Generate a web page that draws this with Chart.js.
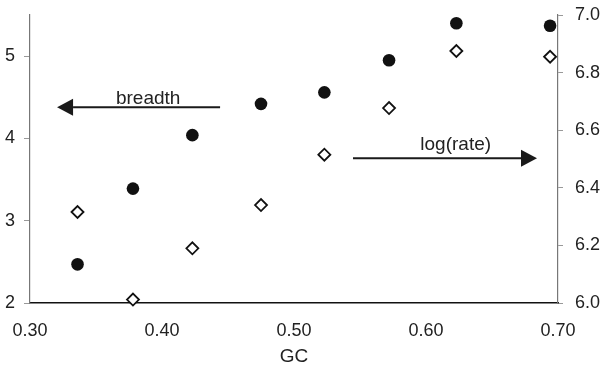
<!DOCTYPE html>
<html>
<head>
<meta charset="utf-8">
<script src="https://cdn.jsdelivr.net/npm/chart.js@4/dist/chart.umd.min.js"></script>
<style>
  html, body { margin: 0; padding: 0; background: #fff; }
  #wrap { width: 602px; height: 366px; }
</style>
</head>
<body>
<div id="wrap"><canvas id="myChart" width="602" height="366"></canvas></div>
<script>
// GC content per group
const gc = [0.336, 0.378, 0.423, 0.475, 0.523, 0.572, 0.623, 0.694];
// left axis series (filled circles)
const breadth = [2.47, 3.39, 4.04, 4.42, 4.56, 4.95, 5.40, 5.37];
// right axis series (open diamonds)
const logRate = [6.316, 6.012, 6.19, 6.34, 6.515, 6.677, 6.875, 6.855];

const xTicks = [0.30, 0.40, 0.50, 0.60, 0.70];
const leftTicks = [2, 3, 4, 5];
const rightTicks = [6.0, 6.2, 6.4, 6.6, 6.8, 7.0];

// arrow annotations: [label, axis, xFrom, xTo, yLine, xText, yText]
const arrows = [
    ["breadth", "y", 0.444, 0.3205, 4.38, 0.3895, 4.42],
    ["log(rate)", "y1", 0.5447, 0.6841, 6.503, 0.6225, 6.531]
];

const FONT = "'Liberation Sans', Arial, sans-serif";
const TXT = "#222";

const arrowPlugin = {
    id: "arrows",
    afterDatasetsDraw(chart) {
        const ctx = chart.ctx;
        const sx = chart.scales.x;
        ctx.save();
        arrows.forEach(a => {
            const sy = chart.scales[a[1]];
            const x0 = sx.getPixelForValue(a[2]);
            const x1 = sx.getPixelForValue(a[3]);
            const y = sy.getPixelForValue(a[4]);
            const dir = x1 > x0 ? 1 : -1;
            const base = x1 - dir * 16;
            ctx.strokeStyle = "#1a1a1a";
            ctx.fillStyle = "#1a1a1a";
            ctx.lineWidth = 2;
            ctx.beginPath();
            ctx.moveTo(x0, y);
            ctx.lineTo(base, y);
            ctx.stroke();
            ctx.beginPath();
            ctx.moveTo(x1, y);
            ctx.lineTo(base, y - 8.5);
            ctx.lineTo(base, y + 8.5);
            ctx.closePath();
            ctx.fill();
            ctx.font = "19px " + FONT;
            ctx.fillStyle = TXT;
            ctx.textAlign = "center";
            ctx.textBaseline = "alphabetic";
            ctx.fillText(a[0], sx.getPixelForValue(a[5]), sy.getPixelForValue(a[6]));
        });
        ctx.restore();
    }
};

const pickTicks = list => scale => {
    scale.ticks = list.map(v => ({ value: v }));
};

new Chart(document.getElementById("myChart"), {
    type: "scatter",
    data: {
        datasets: [{
            label: "breadth",
            data: gc.map((g, i) => ({ x: g, y: breadth[i] })),
            yAxisID: "y",
            pointStyle: "circle",
            pointRadius: 6.3,
            backgroundColor: "#111",
            borderColor: "#111",
            borderWidth: 0,
            clip: false
        }, {
            label: "log(rate)",
            data: gc.map((g, i) => ({ x: g, y: logRate[i] })),
            yAxisID: "y1",
            pointStyle: "rectRot",
            pointRadius: 6,
            backgroundColor: "#fff",
            borderColor: "#111",
            borderWidth: 1.8,
            clip: false
        }]
    },
    options: {
        responsive: false,
        animation: false,
        layout: { padding: { top: 15, left: 0, right: 0, bottom: 0 } },
        plugins: {
            legend: { display: false },
            tooltip: { enabled: false }
        },
        scales: {
            x: {
                type: "linear",
                min: 0.3,
                max: 0.7,
                afterBuildTicks: pickTicks(xTicks),
                afterFit: s => { s.height = 63; s.paddingLeft = 0; s.paddingRight = 0; },
                border: { color: "#111", width: 1.5 },
                grid: { drawOnChartArea: false, drawTicks: false },
                ticks: {
                    padding: 17,
                    color: TXT,
                    font: { family: FONT, size: 18 },
                    callback: v => v.toFixed(2)
                },
                title: {
                    display: true,
                    text: "GC",
                    color: TXT,
                    font: { family: FONT, size: 19, lineHeight: 1 },
                    padding: { top: 0, bottom: 0 }
                }
            },
            y: {
                position: "left",
                min: 2,
                max: 5.5,
                afterBuildTicks: pickTicks(leftTicks),
                afterFit: s => { s.width = 30; s.paddingTop = 0; s.paddingBottom = 0; },
                border: { color: "#777", width: 1.2 },
                grid: { drawOnChartArea: false, tickLength: 6, color: "#999" },
                ticks: {
                    padding: 9,
                    color: TXT,
                    font: { family: FONT, size: 18 }
                }
            },
            y1: {
                position: "right",
                min: 6,
                max: 7,
                afterBuildTicks: pickTicks(rightTicks),
                afterFit: s => { s.width = 44; s.paddingTop = 0; s.paddingBottom = 0; },
                border: { color: "#777", width: 1.2 },
                grid: { drawOnChartArea: false, tickLength: 5, color: "#999" },
                ticks: {
                    padding: 12,
                    color: TXT,
                    font: { family: FONT, size: 18 },
                    callback: v => v.toFixed(1)
                }
            }
        }
    },
    plugins: [arrowPlugin]
});
</script>
</body>
</html>
